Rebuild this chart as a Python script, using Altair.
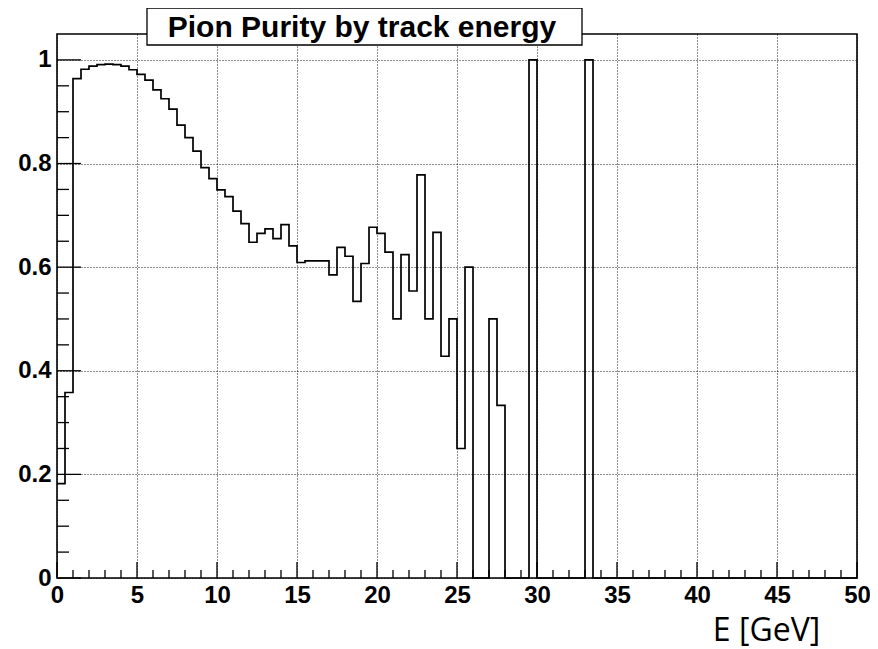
import altair as alt
import pandas as pd

# ---- data (0.5 GeV bins from 0 to 50 GeV) ----
bin_width = 0.5
purity = [
    0.182, 0.358, 0.964, 0.982, 0.988, 0.991, 0.992, 0.991, 0.988, 0.981,
    0.972, 0.961, 0.942, 0.925, 0.905, 0.874, 0.850, 0.824, 0.792, 0.771,
    0.749, 0.736, 0.708, 0.684, 0.648, 0.665, 0.674, 0.655, 0.682, 0.641,
    0.609, 0.612, 0.612, 0.612, 0.585, 0.638, 0.621, 0.534, 0.607, 0.677,
    0.665, 0.629, 0.500, 0.624, 0.554, 0.778, 0.500, 0.667, 0.428, 0.500,
    0.250, 0.600, 0.0, 0.0, 0.500, 0.333, 0.0, 0.0, 0.0, 1.0,
    0.0, 0.0, 0.0, 0.0, 0.0, 0.0, 1.0, 0.0, 0.0, 0.0,
    0.0, 0.0, 0.0, 0.0, 0.0, 0.0, 0.0, 0.0, 0.0, 0.0,
    0.0, 0.0, 0.0, 0.0, 0.0, 0.0, 0.0, 0.0, 0.0, 0.0,
    0.0, 0.0, 0.0, 0.0, 0.0, 0.0, 0.0, 0.0, 0.0, 0.0,
]
x_major = [0, 5, 10, 15, 20, 25, 30, 35, 40, 45, 50]
x_minor = [i for i in range(1, 50) if i % 5]
y_major = [0, 0.2, 0.4, 0.6, 0.8, 1.0]
y_minor = [round(0.05 * i, 2) for i in range(1, 20) if i % 4]
title_text = "Pion Purity by track energy"
x_title = "E [GeV]"

edges = [i * bin_width for i in range(len(purity) + 1)]
hist_df = pd.DataFrame({"E": edges, "purity": purity + [purity[-1]]})

W, H = 800, 544
xscale = alt.Scale(domain=[0, 50], nice=False, zero=False)
yscale = alt.Scale(domain=[0, 1.05], nice=False, zero=False)

xaxis = alt.Axis(
    values=x_major, format="~g", title=x_title, labelFlush=False,
    labelOverlap=False, labelPadding=5,
    titleX=709, titleY=62, titleBaseline="alphabetic", titleAlign="center",
    titleFont="Open Sans", titleFontWeight="normal", titleFontSize=32,
    titleColor="black",
)
yaxis = alt.Axis(values=y_major, format="~g", title=None, labelPadding=6,
                 labelOverlap=False, labelFlush=False)

hist = alt.Chart(hist_df).mark_line(
    interpolate="step-after", color="black", strokeWidth=1.7
).encode(
    x=alt.X("E:Q", scale=xscale, axis=xaxis),
    y=alt.Y("purity:Q", scale=yscale, axis=yaxis),
)

def xticks(vals, length):
    return alt.Chart(pd.DataFrame({"E": vals})).mark_rule(
        color="black", strokeWidth=1.3
    ).encode(
        x=alt.X("E:Q", scale=xscale, axis=xaxis),
        y=alt.value(H), y2=alt.value(H - length),
    )

def yticks(vals, length):
    return alt.Chart(pd.DataFrame({"purity": vals})).mark_rule(
        color="black", strokeWidth=1.3
    ).encode(
        y=alt.Y("purity:Q", scale=yscale, axis=yaxis),
        x=alt.value(0), x2=alt.value(length),
    )

one = pd.DataFrame({"a": [0]})
frame = alt.Chart(one).mark_rect(
    fill="transparent", stroke="black", strokeWidth=1.6
).encode(x=alt.value(0), x2=alt.value(W), y=alt.value(0), y2=alt.value(H))

title_box = alt.Chart(one).mark_rect(
    fill="white", stroke="black", strokeWidth=1.3
).encode(x=alt.value(90), x2=alt.value(525), y=alt.value(-26), y2=alt.value(11))

title_label = alt.Chart(one).mark_text(
    text=title_text, font="Liberation Sans", fontWeight="bold", fontSize=30,
    align="center", baseline="alphabetic", color="black",
).encode(x=alt.value(305), y=alt.value(3))

chart = alt.layer(
    hist,
    xticks(x_major, 16), xticks(x_minor, 8),
    yticks(y_major, 24), yticks(y_minor, 12),
    frame, title_box, title_label,
).properties(
    width=W, height=H,
    background="white",
    autosize=alt.AutoSizeParams(type="none"),
    padding={"left": 49, "top": 26, "right": 13, "bottom": 72},
).configure_view(
    stroke="transparent"
).configure_axis(
    grid=True, gridColor="black", gridDash=[1, 2], gridWidth=1, gridOpacity=0.9,
    domain=False, ticks=False,
    labelFont="Liberation Sans", labelFontWeight="bold", labelFontSize=24,
    labelColor="black",
)

chart.save("out.html", embed_options={"renderer": "svg", "actions": False})
